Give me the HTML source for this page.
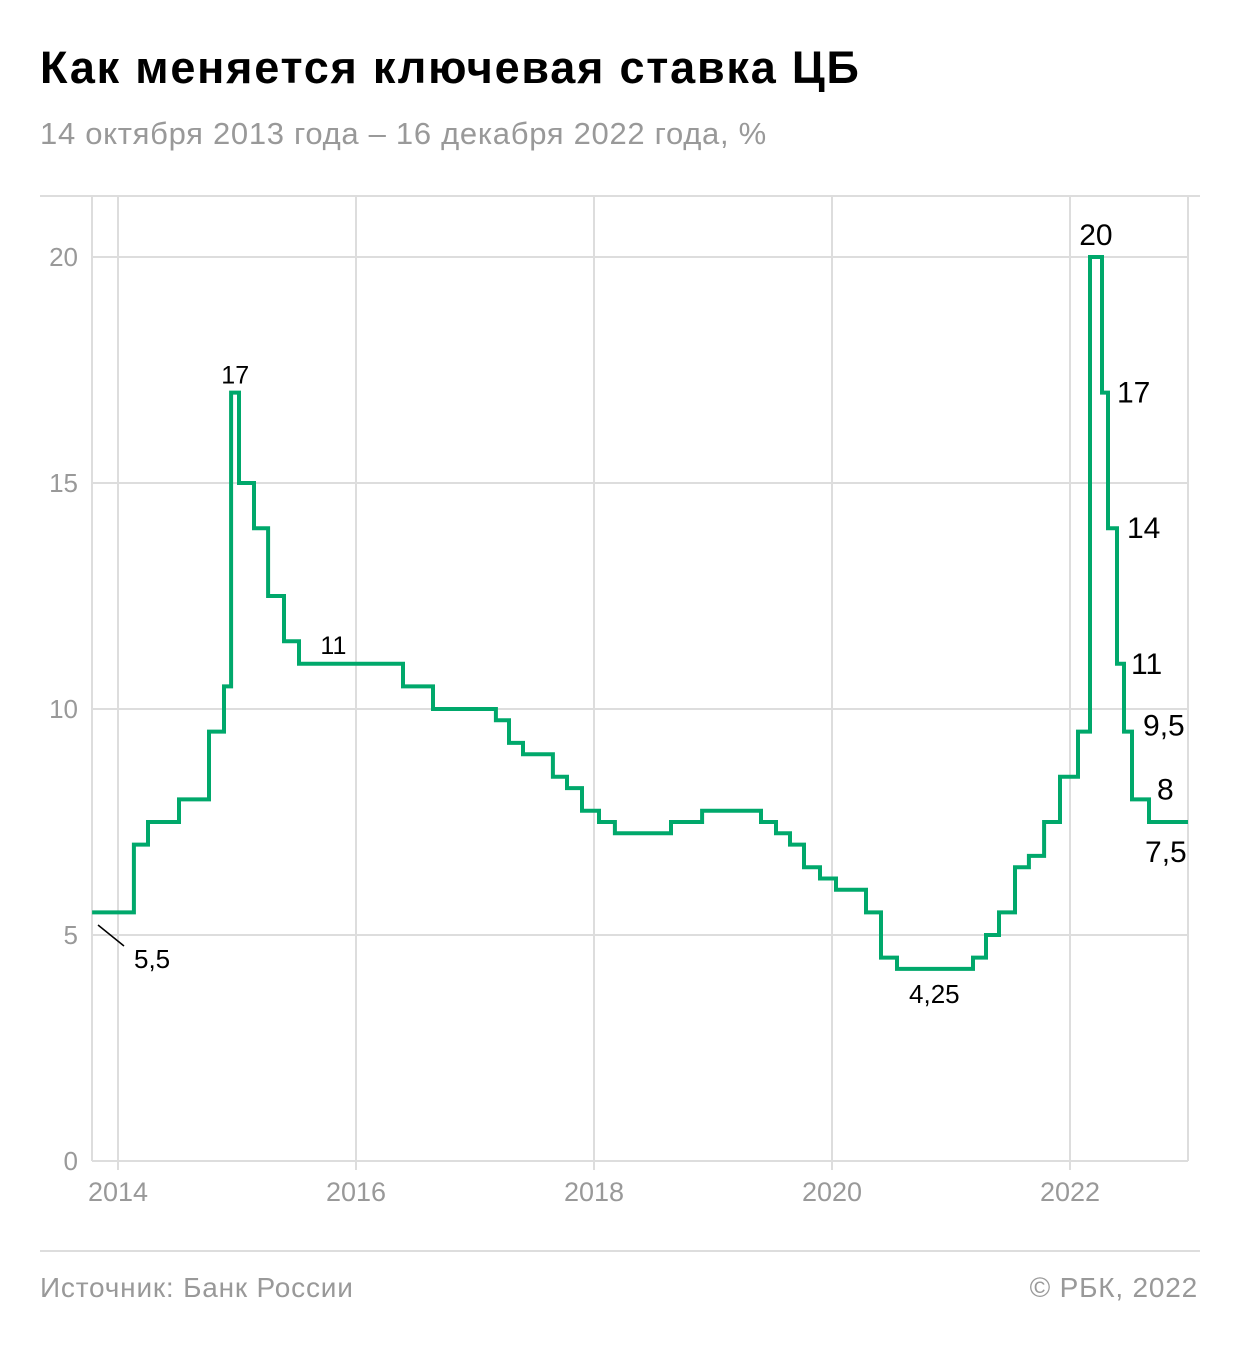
<!DOCTYPE html>
<html><head><meta charset="utf-8">
<style>
html,body{margin:0;padding:0;background:#fff;}
body{width:1240px;height:1348px;position:relative;overflow:hidden;font-family:"Liberation Sans","DejaVu Sans",sans-serif;}
.t{position:absolute;left:40px;top:42px;font-size:45px;font-weight:bold;color:#000;letter-spacing:1.8px;white-space:nowrap;}
.s{position:absolute;left:40px;top:116px;font-size:31px;color:#999;letter-spacing:0.7px;white-space:nowrap;}
.f{position:absolute;top:1272px;font-size:28px;color:#999;white-space:nowrap;letter-spacing:0.8px;}
svg{position:absolute;left:0;top:0;}
</style></head><body>
<div class="t">Как меняется ключевая ставка ЦБ</div>
<div class="s">14 октября 2013 года – 16 декабря 2022 года, %</div>
<div class="f" style="left:40px">Источник: Банк России</div>
<div class="f" style="right:42px">© РБК, 2022</div>
<svg id="chart" width="1240" height="1348"></svg>
<script>
const stepYears=[2013.782,2014.134,2014.252,2014.513,2014.765,2014.891,2014.950,2015.017,2015.143,2015.261,2015.395,2015.521,2016.395,2016.647,2017.176,2017.286,2017.403,2017.655,2017.773,2017.899,2018.042,2018.176,2018.647,2018.908,2019.403,2019.529,2019.647,2019.765,2019.899,2020.034,2020.286,2020.412,2020.546,2021.185,2021.294,2021.403,2021.538,2021.655,2021.782,2021.916,2022.067,2022.168,2022.269,2022.319,2022.395,2022.454,2022.521,2022.664];
const rateValues=[5.5,7,7.5,8,9.5,10.5,17,15,14,12.5,11.5,11,10.5,10,9.75,9.25,9,8.5,8.25,7.75,7.5,7.25,7.5,7.75,7.5,7.25,7,6.5,6.25,6,5.5,4.5,4.25,4.5,5,5.5,6.5,6.75,7.5,8.5,9.5,20,17,14,11,9.5,8,7.5];
const endYear=2022.992;
const yTicks=[0,5,10,15,20];
const xTicks=[2014,2016,2018,2020,2022];
const annotations=[
 {t:"17",yr:2014.985,v:17,dx:0,dy:-9,size:25,anchor:"middle"},
 {t:"11",yr:2015.81,v:11,dx:0,dy:-10,size:25,anchor:"middle"},
 {t:"4,25",yr:2020.86,v:4.25,dx:0,dy:34,size:26,anchor:"middle"},
 {t:"20",yr:2022.218,v:20,dx:0,dy:-12,size:30,anchor:"middle"},
 {t:"17",yr:2022.269,v:17,dx:15,dy:10,size:30,anchor:"start"},
 {t:"14",yr:2022.319,v:14,dx:19,dy:10,size:30,anchor:"start"},
 {t:"11",yr:2022.395,v:11,dx:14,dy:10,size:30,anchor:"start"},
 {t:"9,5",yr:2022.454,v:9.5,dx:19,dy:4,size:30,anchor:"start"},
 {t:"8",yr:2022.521,v:8,dx:25,dy:0,size:30,anchor:"start"},
 {t:"7,5",yr:2022.664,v:7.5,dx:-4,dy:40,size:30,anchor:"start"}
];
const X=v=>118+(v-2014)*119;
const Y=v=>1161-v*45.2;
const svg=document.getElementById('chart');
const NS="http://www.w3.org/2000/svg";
function mk(tag,at){const e=document.createElementNS(NS,tag);for(const k in at)e.setAttribute(k,at[k]);svg.appendChild(e);return e;}
let e;
e=mk('line',{x1:40,x2:1200,y1:196,y2:196,stroke:'#ddd','stroke-width':2});


e=mk('line',{x1:40,x2:1200,y1:1251,y2:1251,stroke:'#ddd','stroke-width':2});


yTicks.forEach(v=>{
 e=mk('line',{x1:92,x2:1188,y1:Y(v),y2:Y(v),stroke:'#ddd','stroke-width':2});
 
 
 e=mk('text',{x:78,y:Y(v)+9,'text-anchor':'end','font-size':26,fill:'#999'});e.textContent=v;
 
 
});
[92,1188].forEach(x=>{
 e=mk('line',{x1:x,x2:x,y1:196,y2:1161,stroke:'#ddd','stroke-width':2});
 
 
});
xTicks.forEach(v=>{
 e=mk('line',{x1:X(v),x2:X(v),y1:196,y2:1170,stroke:'#ddd','stroke-width':2});
 
 
 e=mk('text',{x:X(v),y:1201,'text-anchor':'middle','font-size':27,fill:'#999'});e.textContent=v;
 
 
});
let d="";
for(let i=0;i<stepYears.length;i++){
 const x=X(stepYears[i]),y=Y(rateValues[i]);
 d+=(i===0?"M"+x.toFixed(1)+","+y.toFixed(1):"H"+x.toFixed(1)+"V"+y.toFixed(1));
}
d+="H"+X(endYear).toFixed(1);
e=mk('path',{d:d,fill:'none',stroke:'#00a86b','stroke-width':4,'stroke-linejoin':'miter'});


e=mk('line',{x1:98,y1:925,x2:124,y2:946,stroke:'#000','stroke-width':1.5});


e=mk('text',{x:134,y:968,'font-size':26,fill:'#000'});e.textContent="5,5";


annotations.forEach(a=>{
 e=mk('text',{x:X(a.yr)+a.dx,y:Y(a.v)+a.dy,'text-anchor':a.anchor,'font-size':a.size,fill:'#000'});e.textContent=a.t;
 
 
});
</script>
</body></html>
